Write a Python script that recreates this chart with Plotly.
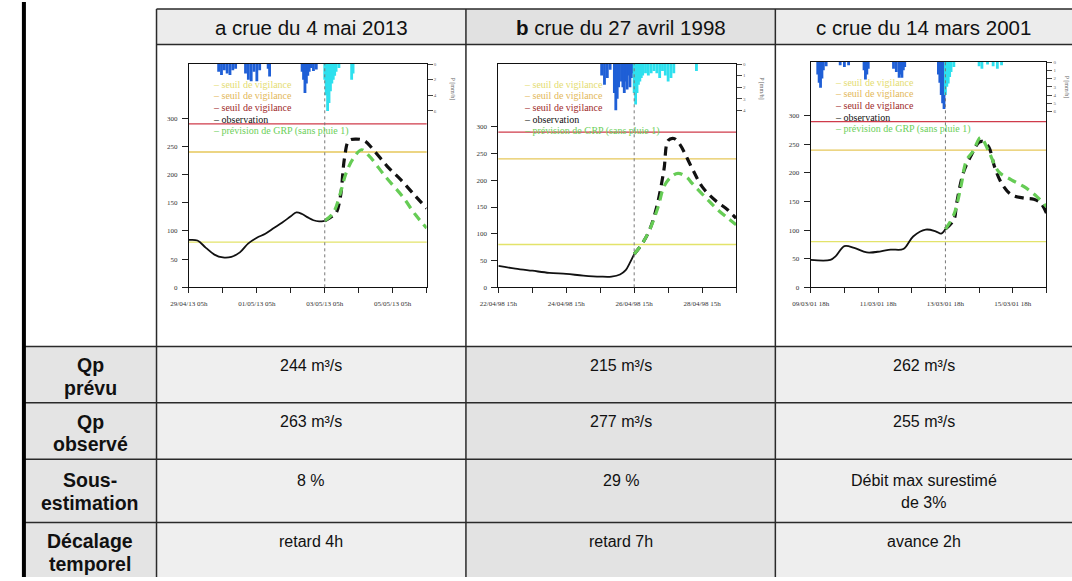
import plotly.graph_objects as go

W, H = 1072, 581

# ---------------- table content ----------------
head_letters = ["a", "b", "c"]
head_bold = [False, True, False]
head_texts = ["crue du 4 mai 2013", "crue du 27 avril 1998", "crue du 14 mars 2001"]
row_labels = ["Qp<br>prévu", "Qp<br>observé", "Sous-<br>estimation", "Décalage<br>temporel"]
row_values = [
    ["244 m³/s", "215 m³/s", "262 m³/s"],
    ["263 m³/s", "277 m³/s", "255 m³/s"],
    ["8 %", "29 %", "Débit max surestimé<br>de 3%"],
    ["retard 4h", "retard 7h", "avance 2h"],
]

# ---------------- hydrograph data (hours from start) ----------------
xticks_a = ["29/04/13 05h", "01/05/13 05h", "03/05/13 05h", "05/05/13 05h"]
xticks_b = ["22/04/98 15h", "24/04/98 15h", "26/04/98 15h", "28/04/98 15h"]
xticks_c = ["09/03/01 18h", "11/03/01 18h", "13/03/01 18h", "15/03/01 18h"]

forecast_t = [96, 96, 96]
thresholds = [80, 240, 290]

obs_a_t = [0, 6, 12, 18, 24, 30, 36, 42, 48, 54, 60, 66, 72, 76, 80, 84, 88, 92, 96]
obs_a_q = [84, 83, 70, 58, 53, 54, 62, 78, 88, 95, 105, 115, 126, 133, 130, 124, 119, 117, 118]
obsf_a_t = [96, 100, 104, 107, 110, 113, 118, 124, 130, 140, 150, 160, 168]
obsf_a_q = [118, 124, 132, 160, 230, 260, 263, 260, 245, 215, 190, 162, 140]
prev_a_t = [96, 102, 107, 111, 116, 122, 127, 139, 151, 160, 168]
prev_a_q = [118, 132, 167, 202, 228, 244, 234, 196, 161, 129, 105]
rain_obs_a_t = [21, 23, 25, 27, 29, 31, 33, 40, 42, 44, 46, 48, 50, 56, 57, 80, 81, 82, 83, 84, 85, 86, 88, 90]
rain_obs_a_v = [1.0, 1.4, 0.8, 1.2, 1.4, 0.8, 0.6, 1.2, 2.0, 2.2, 1.0, 2.2, 0.8, 0.6, 1.6, 1.0, 2.0, 3.7, 2.5, 1.5, 1.0, 0.5, 0.9, 0.7]
rain_prev_a_t = [96, 97, 98, 99, 100, 101, 102, 103, 104, 106, 115, 116]
rain_prev_a_v = [2.0, 4.0, 6.0, 5.0, 3.5, 2.5, 2.0, 1.5, 1.0, 0.5, 2.0, 1.2]

obs_b_t = [0, 12, 24, 36, 48, 60, 72, 80, 86, 90, 93, 96]
obs_b_q = [40, 35, 31, 27, 25, 22, 20, 20, 24, 32, 46, 62]
obsf_b_t = [96, 102, 107, 112, 117, 120, 124, 128, 137, 144, 153, 162, 168]
obsf_b_q = [62, 83, 108, 151, 219, 274, 278, 268, 222, 188, 163, 145, 129]
prev_b_t = [96, 102, 107, 113, 117, 122, 127, 133, 137, 146, 155, 168]
prev_b_q = [62, 83, 108, 151, 188, 206, 213, 206, 194, 169, 145, 117]
rain_obs_b_t = [73, 75, 77, 79, 82, 83, 84, 85, 87, 88, 89, 90, 91, 92, 93, 94, 95]
rain_obs_b_v = [1.0, 1.8, 1.2, 0.5, 2.5, 4.0, 3.0, 2.0, 1.5, 2.0, 2.5, 1.5, 2.2, 1.0, 2.0, 1.2, 0.8]
rain_prev_b_t = [96, 97, 98, 99, 100, 101, 102, 104, 106, 108, 110, 112, 114, 116, 118, 120, 122, 124, 140]
rain_prev_b_v = [2.5, 3.5, 2.5, 1.8, 1.5, 1.2, 1.0, 0.8, 1.0, 0.8, 0.6, 0.8, 1.2, 0.6, 1.0, 1.5, 1.2, 0.8, 0.6]

obs_c_t = [0, 14, 18, 24, 31, 40, 50, 57, 66, 73, 82, 89, 93, 96]
obs_c_q = [48, 48, 55, 72, 69, 61, 63, 66, 67, 89, 101, 98, 94, 102]
obsf_c_t = [96, 102, 104, 109, 115, 120, 123, 127, 131, 136, 143, 152, 159, 164, 168]
obsf_c_q = [102, 118, 147, 202, 234, 254, 255, 245, 211, 182, 162, 156, 154, 147, 130]
prev_c_t = [96, 102, 107, 111, 116, 121, 127, 134, 143, 152, 161, 168]
prev_c_q = [102, 127, 176, 222, 239, 262, 237, 202, 188, 176, 159, 141]
rain_obs_c_t = [5, 6, 7, 8, 9, 11, 21, 24, 27, 38, 39, 40, 41, 59, 61, 63, 64, 65, 66, 67, 91, 92, 93, 94, 95]
rain_obs_c_v = [1.5, 2.5, 3.1, 2.0, 1.0, 0.5, 0.4, 0.6, 0.4, 1.0, 2.1, 1.5, 0.8, 0.8, 1.2, 1.9, 1.5, 1.9, 1.0, 0.6, 1.5, 2.5, 4.0, 5.0, 5.7]
rain_prev_c_t = [96, 97, 98, 99, 100, 102, 120, 122, 126, 130, 133, 136]
rain_prev_c_v = [4.0, 3.0, 2.6, 1.8, 1.2, 0.6, 0.5, 0.8, 0.3, 0.5, 0.8, 0.4]

legend_labels = ["seuil de vigilance", "seuil de vigilance", "seuil de vigilance",
                 "observation", "prévision de GRP (sans pluie 1)"]
legend_colors = ["#e4dc72", "#e3b85a", "#9e2a2a", "#111111", "#6ccf5a"]

# ---------------- geometry (pixels) ----------------
def X(p): return p / W
def Y(p): return 1 - p / H

col_x = [5, 140, 455, 770, 1072]
row_y = [7, 43, 348, 405, 462, 526, 581]

plots = [  # left, right, top, bottom (px)
    (173, 415, 62.7, 288.3),
    (488, 730, 62.7, 288.3),
    (806, 1046, 60.7, 288.3),
]
yranges = [[0, 396], [0, 417], [0, 394]]
rain_ranges = [[28.6, 0], [19.3, 0], [27.3, 0]]
rain_ticks = [[0, 2, 4, 6], [0, 1, 2, 3, 4], [0, 1, 2, 3, 4, 5, 6]]
legend_pos = [(195, 83), (512, 83), (829, 81)]
rain_title_dx = [26, 26, 20]

charts = [
    (obs_a_t, obs_a_q, obsf_a_t, obsf_a_q, prev_a_t, prev_a_q, rain_obs_a_t, rain_obs_a_v, rain_prev_a_t, rain_prev_a_v, xticks_a),
    (obs_b_t, obs_b_q, obsf_b_t, obsf_b_q, prev_b_t, prev_b_q, rain_obs_b_t, rain_obs_b_v, rain_prev_b_t, rain_prev_b_v, xticks_b),
    (obs_c_t, obs_c_q, obsf_c_t, obsf_c_q, prev_c_t, prev_c_q, rain_obs_c_t, rain_obs_c_v, rain_prev_c_t, rain_prev_c_v, xticks_c),
]

fig = go.Figure()
shapes = []
annotations = []

serif = "Liberation Serif, Times New Roman, serif"
sans = "Liberation Sans, Arial, sans-serif"

# ---------------- table backgrounds ----------------
head_fill = ["#ececec", "#e1e1e1", "#ececec"]
body_fill = ["#e4e4e4", "#efefef", "#e3e3e3", "#eeeeee"]
for i in range(3):
    shapes.append(dict(type="rect", xref="paper", yref="paper", layer="below",
                       x0=X(col_x[i + 1]), x1=X(col_x[i + 2]), y0=Y(row_y[1]), y1=Y(row_y[0]),
                       fillcolor=head_fill[i], line=dict(width=0)))
for i in range(4):
    shapes.append(dict(type="rect", xref="paper", yref="paper", layer="below",
                       x0=X(col_x[i]), x1=X(col_x[i + 1]), y0=Y(row_y[-1]), y1=Y(row_y[2]),
                       fillcolor=body_fill[i], line=dict(width=0)))

line_col = "#2a2a2a"
for j, yy in enumerate(row_y[:-1]):
    x_start = col_x[1] if j < 2 else col_x[0]
    shapes.append(dict(type="line", xref="paper", yref="paper", layer="above",
                       x0=X(x_start), x1=X(col_x[-1]), y0=Y(yy), y1=Y(yy),
                       line=dict(color=line_col, width=1.5)))
for xx in col_x[1:-1]:
    shapes.append(dict(type="line", xref="paper", yref="paper", layer="above",
                       x0=X(xx), x1=X(xx), y0=Y(row_y[0]), y1=Y(H),
                       line=dict(color=line_col, width=1.5)))
shapes.append(dict(type="line", xref="paper", yref="paper", layer="above",
                   x0=X(col_x[0]), x1=X(col_x[0]), y0=0, y1=1,
                   line=dict(color="#000000", width=4)))

# ---------------- table texts ----------------
for i in range(3):
    letter = f"<b>{head_letters[i]}</b>" if head_bold[i] else head_letters[i]
    annotations.append(dict(xref="paper", yref="paper", x=X((col_x[i + 1] + col_x[i + 2]) / 2),
                            y=Y((row_y[0] + row_y[1]) / 2 + 1), text=f"{letter} {head_texts[i]}",
                            showarrow=False, xanchor="center", yanchor="middle",
                            font=dict(family=sans, size=20.5, color="#111")))

line_off = [19, 42]
for r in range(4):
    top = row_y[2 + r]
    extra = 2 if r == 2 else 0
    for li, part in enumerate(row_labels[r].split("<br>")):
        annotations.append(dict(xref="paper", yref="paper", x=X((col_x[0] + col_x[1]) / 2),
                                y=Y(top + line_off[li] + extra), text=f"<b>{part}</b>", showarrow=False,
                                xanchor="center", yanchor="middle",
                                font=dict(family=sans, size=19.5, color="#111")))
    for i in range(3):
        for li, part in enumerate(row_values[r][i].split("<br>")):
            annotations.append(dict(xref="paper", yref="paper", x=X((col_x[i + 1] + col_x[i + 2]) / 2),
                                    y=Y(top + line_off[li] + extra), text=part, showarrow=False,
                                    xanchor="center", yanchor="middle",
                                    font=dict(family=sans, size=16, color="#111")))

# ---------------- hydrographs ----------------
layout_axes = {}
for k, ch in enumerate(charts):
    (ot, oq, oft, ofq, pt, pq, rot, rov, rpt, rpv, xt) = ch
    l, r, t, b = plots[k]
    n = "" if k == 0 else str(k + 1)
    xa, ya = "x" + n, "y" + n
    rn = str(k + 4)
    ra = "y" + rn

    fig.add_trace(go.Bar(x=rot, y=rov, xaxis=xa, yaxis=ra, marker=dict(color="#1f5fd6", line=dict(width=0)),
                         width=2.0, showlegend=False, hoverinfo="skip"))
    fig.add_trace(go.Bar(x=rpt, y=rpv, xaxis=xa, yaxis=ra, marker=dict(color="#2ee0ee", line=dict(width=0)),
                         width=2.0, showlegend=False, hoverinfo="skip"))
    fig.add_trace(go.Scatter(x=ot, y=oq, xaxis=xa, yaxis=ya, mode="lines",
                             line=dict(color="#111", width=1.8, shape="spline"), showlegend=False))
    fig.add_trace(go.Scatter(x=oft, y=ofq, xaxis=xa, yaxis=ya, mode="lines",
                             line=dict(color="#111", width=3.2, dash="9px,6px", shape="spline"), showlegend=False))
    fig.add_trace(go.Scatter(x=pt, y=pq, xaxis=xa, yaxis=ya, mode="lines",
                             line=dict(color="#66cc55", width=3.2, dash="9px,6px", shape="spline"), showlegend=False))

    tickvals = list(range(0, 169, 24))
    ticktext = [xt[j // 2] if j % 2 == 0 else "" for j in range(8)]
    axis_font = dict(family=serif, size=7, color="#333")
    layout_axes["xaxis" + n] = dict(domain=[X(l), X(r)], range=[0, 168], anchor=ya,
                                    tickvals=tickvals, ticktext=ticktext, ticks="outside", ticklen=5,
                                    tickcolor="#222", showline=True, linecolor="#111", linewidth=1,
                                    mirror=True, showgrid=False, zeroline=False, tickfont=axis_font,
                                    ticklabelstandoff=4, fixedrange=True)
    layout_axes["yaxis" + n] = dict(domain=[Y(b), Y(t)], range=yranges[k], anchor=xa,
                                    tickvals=[0, 50, 100, 150, 200, 250, 300], ticks="outside", ticklen=6,
                                    tickcolor="#222", showline=True, linecolor="#111", linewidth=1,
                                    mirror=True, showgrid=False, zeroline=False, tickfont=axis_font,
                                    ticklabelstandoff=3, fixedrange=True)
    layout_axes["yaxis" + rn] = dict(overlaying=ya, side="right", anchor=xa, range=rain_ranges[k],
                                     tickvals=rain_ticks[k], ticks="outside", ticklen=5, tickcolor="#444",
                                     showgrid=False, zeroline=False, showline=False,
                                     tickfont=dict(family=serif, size=5, color="#666"), fixedrange=True)

    for v, c in zip(thresholds, ["#e3e36a", "#e6c75a", "#cf3b4a"]):
        shapes.append(dict(type="line", xref=xa + " domain", yref=ya, x0=0, x1=1, y0=v, y1=v,
                           line=dict(color=c, width=1.3), layer="below"))
    shapes.append(dict(type="line", xref=xa, yref=ya + " domain", x0=forecast_t[k], x1=forecast_t[k],
                       y0=0, y1=1, line=dict(color="#777", width=1, dash="dot"), layer="above"))

    lx, ly = legend_pos[k]
    for j, (lab, c) in enumerate(zip(legend_labels, legend_colors)):
        annotations.append(dict(xref="paper", yref="paper", x=X(lx), y=Y(ly + j * 11.8), text="– " + lab,
                                showarrow=False, xanchor="left", yanchor="middle",
                                font=dict(family=serif, size=10, color=c)))
    annotations.append(dict(xref="paper", yref="paper", x=X(r + rain_title_dx[k]), y=Y(t + 25), text="P [mm/h]",
                            showarrow=False, textangle=90, xanchor="center", yanchor="middle",
                            font=dict(family=serif, size=6, color="#666")))

fig.update_layout(
    width=W, height=H, margin=dict(l=0, r=0, t=0, b=0),
    paper_bgcolor="white", plot_bgcolor="rgba(0,0,0,0)",
    barmode="overlay", showlegend=False, hovermode=False,
    shapes=shapes, annotations=annotations, **layout_axes,
)
fig.write_html("out.html", config={"displayModeBar": False, "staticPlot": True},
               post_script="document.body.style.margin='0px';document.body.style.overflow='hidden';")
